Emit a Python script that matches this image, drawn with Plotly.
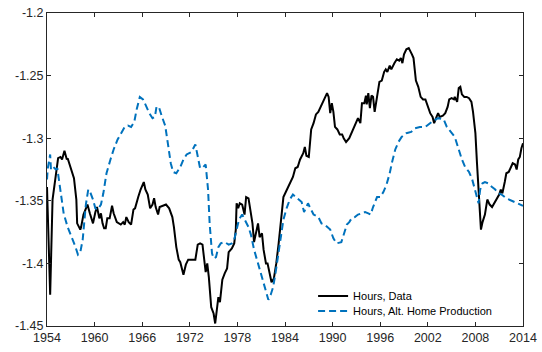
import plotly.graph_objects as go

# ---- data ----
data_years = [1954.0, 1954.4, 1954.7, 1955.1, 1955.4, 1955.7, 1955.9, 1956.2, 1956.5, 1956.6,
              1957.0, 1957.4, 1957.7, 1957.8, 1958.2, 1958.3, 1958.6, 1958.9, 1959.1, 1959.4,
              1959.8, 1960.1, 1960.3, 1960.6, 1960.8, 1961.0, 1961.2, 1961.4, 1961.6, 1961.9,
              1962.2, 1962.4, 1962.8, 1963.3, 1963.6, 1963.8, 1964.0, 1964.3, 1964.6, 1964.9,
              1965.1, 1965.5, 1965.8, 1966.2, 1966.4, 1966.7, 1967.0, 1967.3, 1967.5, 1967.7,
              1968.0, 1968.2, 1968.7, 1969.0, 1969.4, 1969.8, 1970.0, 1970.3, 1970.6, 1970.8,
              1971.2, 1971.5, 1971.8, 1972.2, 1972.7, 1973.0, 1973.3, 1973.6, 1973.8, 1974.0,
              1974.2, 1974.4, 1974.7, 1975.0, 1975.2, 1975.4, 1975.6, 1975.8, 1976.1, 1976.4,
              1976.7, 1976.9, 1977.3, 1977.6, 1977.8, 1977.9, 1978.1, 1978.3, 1978.6, 1978.9,
              1979.1, 1979.4, 1979.6, 1979.9, 1980.1, 1980.3, 1980.6, 1980.8, 1981.1, 1981.3,
              1981.6, 1981.8, 1982.1, 1982.3, 1982.6, 1982.9, 1983.2, 1983.5, 1983.8, 1984.1,
              1984.4, 1984.8, 1985.0, 1985.3, 1985.6, 1985.9, 1986.3, 1986.5, 1986.7, 1987.0,
              1987.3, 1987.6, 1987.9, 1988.2, 1988.6, 1989.0, 1989.3, 1989.5, 1989.7, 1989.9,
              1990.1, 1990.3, 1990.6, 1990.9, 1991.2, 1991.4, 1991.7, 1992.1, 1992.4, 1992.7,
              1993.0, 1993.2, 1993.5, 1993.7, 1994.0, 1994.2, 1994.3, 1994.5, 1994.7, 1994.9,
              1995.1, 1995.3, 1995.6, 1995.9, 1996.2, 1996.5, 1996.7, 1996.9, 1997.2, 1997.4,
              1997.8, 1998.1, 1998.4, 1998.6, 1998.8, 1999.0, 1999.3, 1999.6, 2000.0, 2000.2,
              2000.5, 2000.8, 2001.1, 2001.4, 2001.7, 2002.0, 2002.3, 2002.6, 2002.8, 2003.1,
              2003.3, 2003.5, 2003.9, 2004.2, 2004.5, 2004.7, 2005.0, 2005.3, 2005.4, 2005.7,
              2005.9, 2006.1, 2006.3, 2006.6, 2006.9, 2007.2, 2007.5, 2007.7, 2008.0, 2008.2,
              2008.4, 2008.6, 2008.7, 2008.9, 2009.2, 2009.5, 2009.8, 2010.1, 2010.4, 2010.7,
              2011.0, 2011.2, 2011.4, 2011.7, 2011.9, 2012.2, 2012.5, 2012.7, 2013.0, 2013.2,
              2013.4, 2013.6, 2013.8, 2014.0]
data_hours = [-1.339, -1.425, -1.349, -1.331, -1.316, -1.315, -1.317, -1.310, -1.317, -1.316,
              -1.324, -1.332, -1.349, -1.368, -1.373, -1.371, -1.361, -1.357, -1.353, -1.360,
              -1.368, -1.359, -1.355, -1.364, -1.360, -1.368, -1.372, -1.372, -1.364, -1.364,
              -1.354, -1.360, -1.367, -1.369, -1.367, -1.369, -1.363, -1.367, -1.369, -1.357,
              -1.356, -1.347, -1.341, -1.335, -1.341, -1.345, -1.356, -1.353, -1.348, -1.355,
              -1.361, -1.355, -1.354, -1.353, -1.356, -1.363, -1.371, -1.387, -1.397, -1.399,
              -1.409, -1.401, -1.397, -1.397, -1.397, -1.385, -1.384, -1.385, -1.395, -1.407,
              -1.400, -1.411, -1.435, -1.440, -1.448, -1.437, -1.427, -1.431, -1.413, -1.408,
              -1.404, -1.391, -1.388, -1.384, -1.373, -1.352, -1.356, -1.352, -1.353, -1.361,
              -1.347, -1.348, -1.357, -1.368, -1.383, -1.376, -1.368, -1.379, -1.376, -1.389,
              -1.400, -1.400, -1.411, -1.415, -1.412, -1.400, -1.384, -1.365, -1.347, -1.343,
              -1.339, -1.335, -1.331, -1.324, -1.323, -1.317, -1.312, -1.307, -1.314, -1.315,
              -1.293, -1.288, -1.281, -1.279, -1.273, -1.268, -1.264, -1.267, -1.280, -1.272,
              -1.279, -1.291, -1.293, -1.297, -1.297, -1.300, -1.303, -1.300, -1.296, -1.291,
              -1.287, -1.284, -1.288, -1.272, -1.272, -1.266, -1.273, -1.264, -1.276, -1.266,
              -1.267, -1.279, -1.267, -1.255, -1.254, -1.247, -1.245, -1.247, -1.242, -1.245,
              -1.240, -1.237, -1.238, -1.236, -1.240, -1.233, -1.229, -1.228, -1.233, -1.236,
              -1.254, -1.259, -1.267, -1.269, -1.269, -1.275, -1.280, -1.283, -1.288, -1.283,
              -1.280, -1.283, -1.282, -1.280, -1.275, -1.269, -1.268, -1.269, -1.267, -1.271,
              -1.260, -1.259, -1.265, -1.267, -1.267, -1.268, -1.271, -1.279, -1.296, -1.320,
              -1.341, -1.361, -1.373, -1.367, -1.361, -1.349, -1.353, -1.355, -1.352, -1.349,
              -1.345, -1.341, -1.344, -1.335, -1.328, -1.327, -1.323, -1.320, -1.321, -1.325,
              -1.317, -1.315, -1.308, -1.304]

alt_years = [1954.0, 1954.1, 1954.4, 1954.5, 1954.8, 1955.1, 1955.3, 1955.7, 1956.1, 1956.6,
             1957.2, 1957.6, 1957.9, 1958.2, 1958.5, 1958.7, 1958.9, 1959.2, 1959.5, 1959.8,
             1960.1, 1960.4, 1960.8, 1961.1, 1961.5, 1962.0, 1962.4, 1962.9, 1963.4, 1963.8,
             1964.2, 1964.6, 1965.0, 1965.3, 1965.7, 1966.1, 1966.4, 1966.9, 1967.3, 1967.6,
             1967.8, 1968.1, 1968.5, 1968.9, 1969.3, 1969.6, 1969.9, 1970.3, 1970.8, 1971.2,
             1971.6, 1972.2, 1972.7, 1973.0, 1973.3, 1973.7, 1974.0, 1974.3, 1974.5, 1974.8,
             1975.0, 1975.3, 1975.6, 1975.9, 1976.4, 1976.9, 1977.3, 1977.6, 1977.9, 1978.2,
             1978.6, 1979.1, 1979.4, 1979.7, 1980.1, 1980.6, 1981.1, 1981.5, 1981.9, 1982.2,
             1982.5, 1982.8, 1983.2, 1983.5, 1983.8, 1984.2, 1984.6, 1985.0, 1985.7, 1986.1,
             1986.4, 1986.9, 1987.2, 1987.6, 1988.2, 1988.6, 1989.0, 1989.7, 1990.1, 1990.5,
             1991.1, 1991.5, 1991.8, 1992.1, 1992.4, 1992.8, 1993.2, 1993.7, 1994.1, 1994.5,
             1994.8, 1995.1, 1995.6, 1996.0, 1996.4, 1996.8, 1997.2, 1997.5, 1997.9, 1998.3,
             1998.7, 1999.3, 1999.9, 2000.4, 2001.0, 2001.7, 2002.3, 2002.7, 2003.3, 2004.0,
             2004.4, 2005.0, 2005.4, 2005.9, 2006.3, 2006.7, 2007.2, 2007.6, 2007.9, 2008.2,
             2008.4, 2008.6, 2008.9, 2009.2, 2009.6, 2010.1, 2010.5, 2010.9, 2011.3, 2011.9,
             2012.6, 2013.2, 2013.7, 2014.0]
alt_hours = [-1.333, -1.324, -1.313, -1.325, -1.323, -1.325, -1.324, -1.344, -1.360, -1.371,
             -1.380, -1.387, -1.393, -1.391, -1.381, -1.368, -1.353, -1.341, -1.344, -1.349,
             -1.356, -1.357, -1.353, -1.344, -1.328, -1.317, -1.309, -1.301, -1.296, -1.291,
             -1.290, -1.291, -1.287, -1.277, -1.267, -1.269, -1.273, -1.280, -1.284, -1.283,
             -1.275, -1.275, -1.283, -1.290, -1.307, -1.320, -1.327, -1.328, -1.323, -1.317,
             -1.313, -1.311, -1.305, -1.316, -1.324, -1.323, -1.321, -1.341, -1.368, -1.392,
             -1.396, -1.395, -1.387, -1.384, -1.383, -1.385, -1.384, -1.381, -1.373, -1.365,
             -1.361, -1.368, -1.371, -1.377, -1.389, -1.400, -1.411, -1.420, -1.429, -1.425,
             -1.419, -1.408, -1.392, -1.379, -1.365, -1.356, -1.349, -1.345, -1.349, -1.351,
             -1.359, -1.352, -1.356, -1.361, -1.363, -1.368, -1.369, -1.373, -1.380, -1.384,
             -1.383, -1.376, -1.369, -1.367, -1.364, -1.363, -1.361, -1.360, -1.359, -1.360,
             -1.361, -1.355, -1.347, -1.347, -1.343, -1.337, -1.328, -1.319, -1.309, -1.303,
             -1.299, -1.296, -1.295, -1.292, -1.291, -1.291, -1.288, -1.286, -1.284, -1.285,
             -1.291, -1.296, -1.299, -1.309, -1.317, -1.323, -1.327, -1.333, -1.340, -1.347,
             -1.352, -1.341, -1.336, -1.335, -1.336, -1.339, -1.341, -1.344, -1.345, -1.348,
             -1.350, -1.352, -1.353, -1.354]

x_ticks = [1954, 1960, 1966, 1972, 1978, 1984, 1990, 1996, 2002, 2008, 2014]
x_tick_labels = [str(v) for v in x_ticks]
y_ticks = [-1.45, -1.4, -1.35, -1.3, -1.25, -1.2]
y_tick_labels = ["-1.45", "-1.4", "-1.35", "-1.3", "-1.25", "-1.2"]

series_names = ["Hours, Data", "Hours, Alt. Home Production"]

# ---- figure ----
FONT = "Liberation Sans, Arial, Helvetica, sans-serif"
AX = "#262626"
X_RANGE = [1954, 2014]
Y_RANGE = [-1.45, -1.2]

fig = go.Figure()
fig.add_trace(go.Scatter(x=data_years, y=data_hours, mode="lines", name=series_names[0],
                         line=dict(color="black", width=2), legend="legend"))
fig.add_trace(go.Scatter(x=alt_years, y=alt_hours, mode="lines", name=series_names[1],
                         line=dict(color="#0072BD", width=2, dash="7px,4px"), legend="legend2"))
# empty helper trace that activates the top/right frame axes
fig.add_trace(go.Scatter(x=[], y=[], xaxis="x2", yaxis="y2", showlegend=False,
                         hoverinfo="skip", mode="lines"))

axis_common = dict(showline=True, linecolor=AX, linewidth=1,
                   ticks="inside", ticklen=4, tickcolor=AX, tickwidth=1,
                   showgrid=False, zeroline=False, automargin=False,
                   ticklabeloverflow="allow",
                   tickfont=dict(family=FONT, size=12.5, color=AX))

fig.update_layout(
    width=542, height=352,
    margin=dict(l=47, r=19, t=13, b=26, autoexpand=False),
    paper_bgcolor="white", plot_bgcolor="white",
    font=dict(family=FONT, color="black"),
    xaxis=dict(range=X_RANGE, tickvals=x_ticks, ticktext=x_tick_labels, **axis_common),
    yaxis=dict(range=Y_RANGE, tickvals=y_ticks, ticktext=y_tick_labels, **axis_common),
    xaxis2=dict(range=X_RANGE, tickvals=x_ticks, overlaying="x", side="top", anchor="y2",
                showticklabels=False, **axis_common),
    yaxis2=dict(range=Y_RANGE, tickvals=y_ticks, overlaying="y", side="right", anchor="x2",
                showticklabels=False, **axis_common),
    legend=dict(x=0.559, y=0.142, xanchor="left", yanchor="top",
                bgcolor="rgba(0,0,0,0)", borderwidth=0,
                font=dict(family=FONT, size=11, color="black")),
    legend2=dict(x=0.559, y=0.094, xanchor="left", yanchor="top",
                 bgcolor="rgba(0,0,0,0)", borderwidth=0,
                 font=dict(family=FONT, size=11, color="black")),
    showlegend=True,
)

# remove the browser's default 8px body margin so the figure sits at the page origin
fig.write_html("out.html", config={"displayModeBar": False},
               post_script="document.body.style.margin='0';document.body.style.overflow='hidden';")
